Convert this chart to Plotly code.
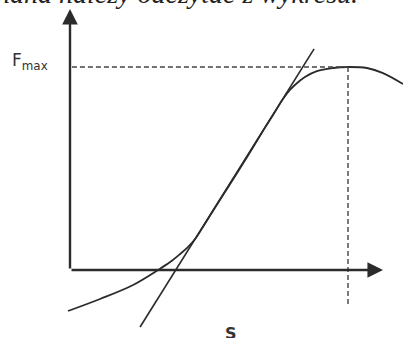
import plotly.graph_objects as go

# curve F(s) (arbitrary units, F_max = 10)
s_curve = [-0.07, 1.08, 2.27, 3.17, 3.60, 3.96, 4.24, 4.50, 4.78, 5.14, 5.76, 6.37,
           7.01, 7.37, 7.66, 7.91, 8.17, 8.45, 8.88, 9.46, 10.0, 10.68, 11.26, 11.98]
f_curve = [-2.02, -1.43, -0.74, 0.0, 0.39, 0.79, 1.13, 1.53, 2.12, 2.91, 4.24, 5.57,
           7.00, 7.78, 8.42, 8.87, 9.21, 9.51, 9.80, 9.95, 10.0, 9.95, 9.70, 9.16]

# tangent line along the steep part
s_tan = [2.52, 8.78]
f_tan = [-2.81, 10.89]

s_peak = 10.0
f_max = 10.0
s_dash_low = -1.82

x_end = 11.26
y_end = 12.86

ink = "#2b2b2b"

fig = go.Figure()

fig.add_trace(go.Scatter(x=s_curve, y=f_curve, mode="lines",
                         line=dict(color=ink, width=1.8, shape="spline", smoothing=1.0)))
fig.add_trace(go.Scatter(x=s_tan, y=f_tan, mode="lines",
                         line=dict(color=ink, width=1.6)))
# dashed guides
fig.add_trace(go.Scatter(x=[0.07, s_peak], y=[f_max, f_max], mode="lines",
                         line=dict(color="#444", width=1.4, dash="5px,3px")))
fig.add_trace(go.Scatter(x=[s_peak, s_peak], y=[f_max, s_dash_low], mode="lines",
                         line=dict(color="#444", width=1.4, dash="5px,3px")))

# axes with arrows
fig.add_annotation(x=x_end, y=0, ax=0, ay=0, xref="x", yref="y", axref="x", ayref="y",
                   text="", showarrow=True, arrowhead=2, arrowsize=1.3, arrowwidth=2.4,
                   arrowcolor=ink)
fig.add_annotation(x=0, y=y_end, ax=0, ay=0, xref="x", yref="y", axref="x", ayref="y",
                   text="", showarrow=True, arrowhead=2, arrowsize=1.3, arrowwidth=2.4,
                   arrowcolor=ink)

fig.add_annotation(x=-2.16, y=10.25, xref="x", yref="y", showarrow=False, xanchor="left",
                   text="F<sub>max</sub>", font=dict(family="DejaVu Sans", size=17, color="#333"))
fig.add_annotation(x=5.79, y=-2.56, xref="x", yref="y", showarrow=False, yanchor="top",
                   text="<b>S</b>", font=dict(family="DejaVu Sans", size=16, color="#333"))

fig.add_annotation(x=0.893, y=1.0 + 6 / 338, xref="paper", yref="paper", xanchor="right",
                   yanchor="middle", showarrow=False,
                   text="<i>nana należy odczytać z wykresu.</i>",
                   font=dict(family="Liberation Serif", size=28, color="#222"))

fig.update_layout(width=403, height=338, margin=dict(l=0, r=0, t=0, b=0),
                  paper_bgcolor="white", plot_bgcolor="white", showlegend=False)
fig.update_xaxes(range=[-2.518, 11.978], visible=False)
fig.update_yaxes(range=[-3.35, 13.30], visible=False)

fig.write_html("out.html", config={"displayModeBar": False},
               post_script="document.body.style.margin='0';")
